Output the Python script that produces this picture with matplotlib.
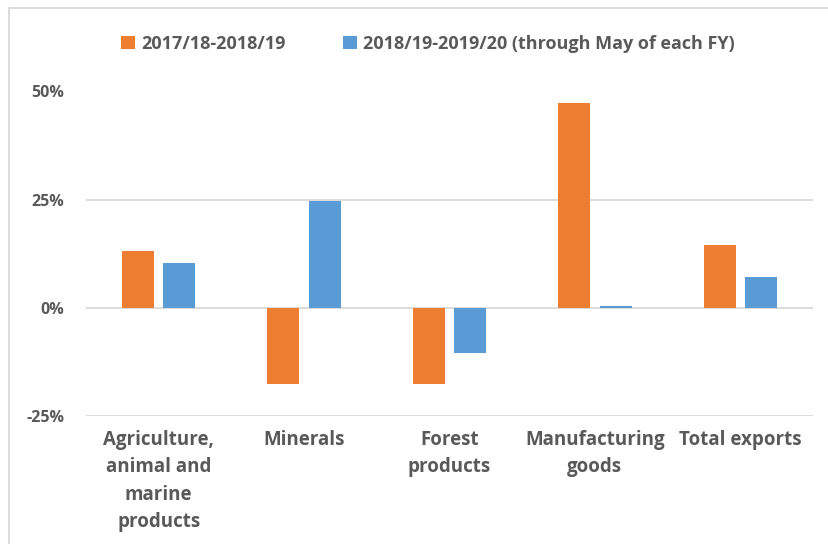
import matplotlib
matplotlib.use('Agg')
import matplotlib.pyplot as plt
import numpy as np
from matplotlib.lines import Line2D
from matplotlib.ticker import FuncFormatter

# dados
categorias = ["Agriculture,\nanimal and\nmarine\nproducts", "Minerals", "Forest\nproducts",
              "Manufacturing\ngoods", "Total exports"]
serie_1718 = [13.2, -17.7, -17.5, 47.3, 14.5]
serie_1819 = [10.4, 24.7, -10.5, 0.4, 7.1]
rotulos = ["2017/18-2018/19", "2018/19-2019/20 (through May of each FY)"]

laranja = '#ED7D31'
azul = '#5B9BD5'
cinza_txt = '#595959'
cinza_grade = '#D9D9D9'

plt.rcParams['font.family'] = ['Open Sans', 'DejaVu Sans']

fig = plt.figure(figsize=(8.29, 5.44), dpi=100)
ax = fig.add_axes([86/829, 1 - 416/544, (813 - 86)/829, (416 - 91.5)/544])

x = np.arange(len(categorias))
larg = 0.22
desloc = 0.142
ax.bar(x - desloc, serie_1718, width=larg, color=laranja, label=rotulos[0], zorder=3)
ax.bar(x + desloc, serie_1819, width=larg, color=azul, label=rotulos[1], zorder=3)

ax.set_xlim(-0.5, len(categorias) - 0.5)
ax.set_ylim(-25, 50)
ax.set_yticks([-25, 0, 25, 50])
ax.yaxis.set_major_formatter(FuncFormatter(lambda v, p: f"{v:.0f}%"))
ax.grid(axis='y', color=cinza_grade, linewidth=1.3, zorder=0)
for s in ax.spines.values():
    s.set_visible(False)
ax.tick_params(axis='both', length=0, colors=cinza_txt)
ax.tick_params(axis='y', pad=15.5, labelsize=11.5)
ax.tick_params(axis='x', pad=10, labelsize=13.5)
ax.set_xticks(x)
ax.set_xticklabels(categorias, fontweight='bold', color=cinza_txt, linespacing=1.5,
                   va='top')
for t in ax.get_yticklabels():
    t.set_fontweight('bold')
    t.set_color(cinza_txt)

leg = fig.legend(loc='center', bbox_to_anchor=(428/829, 1 - 44/544), ncol=2, frameon=False,
                 handlelength=0.75, handleheight=0.75, handletextpad=0.35,
                 columnspacing=3.2, prop={'weight': 'bold', 'size': 13})
for t in leg.get_texts():
    t.set_color(cinza_txt)

# moldura do gráfico (só esquerda e topo visíveis)
fig.add_artist(Line2D([9/829, 9/829], [0, 1 - 8/544], transform=fig.transFigure,
                      color=cinza_grade, linewidth=1.3))
fig.add_artist(Line2D([9/829, 1], [1 - 8/544, 1 - 8/544], transform=fig.transFigure,
                      color=cinza_grade, linewidth=1.3))

fig.savefig('out.png', dpi=100)
plt.close()
